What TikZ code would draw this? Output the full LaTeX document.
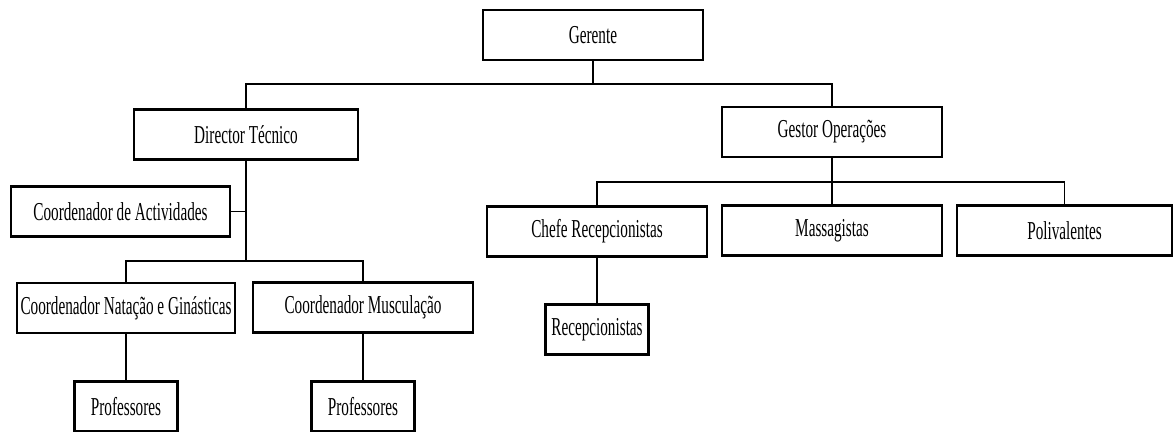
\documentclass[tikz,border=0pt]{standalone}
\usepackage{fontspec}
\setmainfont{Liberation Serif}[FakeStretch=0.59]

\begin{document}
\begin{tikzpicture}[x=0.5pt, y=-0.5pt,
    box/.style={draw, line width=1.2pt, minimum width=110pt, minimum height=25pt, inner sep=1pt, font=\fontsize{12.9pt}{14pt}\selectfont},
    smallbox/.style={box, minimum width=51.5pt},
    conn/.style={line width=0.8pt}]

    \useasboundingbox (0, 0) rectangle (1173, 432);

    % top
    \node[box] (ger) at (593, 35) {Gerente};
    \coordinate (b1) at (593, 84);

    % left branch
    \node[box, minimum width=112pt] (dir) at (246, 134.5) {Director Técnico};
    \node[box, minimum width=109.5pt] (act) at (120.5, 211.5) {Coordenador de Actividades};
    \coordinate (b2) at (246, 261);
    \node[box, minimum width=109pt] (nat) at (126, 308) {Coordenador Natação e Ginásticas};
    \node[box] (mus) at (363, 307.5) {Coordenador Musculação};
    \node[smallbox] (pro1) at (126, 406.5) {Professores};
    \node[smallbox] (pro2) at (363, 406.5) {Professores};

    % right branch
    \node[box] (ges) at (832, 132) {Gestor Operações};
    \coordinate (b3) at (832, 182);
    \node[box] (che) at (597, 231.5) {Chefe Recepcionistas};
    \node[box] (mas) at (832, 230.5) {Massagistas};
    \node[box, minimum width=107.5pt] (pol) at (1064.5, 230.5) {Polivalentes};
    \node[smallbox] (rec) at (597, 329.5) {Recepcionistas};

    % connectors
    \draw[conn] (ger.south) -- (b1);
    \draw[conn] (dir.north) |- (b1) -| (ges.north);

    \draw[conn] (dir.south) -- (b2);
    \draw[conn] (act.east) -- (act.east -| dir.south);
    \draw[conn] (nat.north) |- (b2) -| (mus.north);
    \draw[conn] (nat.south) -- (pro1.north);
    \draw[conn] (mus.south) -- (pro2.north);

    \draw[conn] (ges.south) -- (b3);
    \draw[conn] (che.north) |- (b3) -| (pol.north);
    \draw[conn] (mas.north) -- (b3);
    \draw[conn] (che.south) -- (rec.north);
\end{tikzpicture}
\end{document}
